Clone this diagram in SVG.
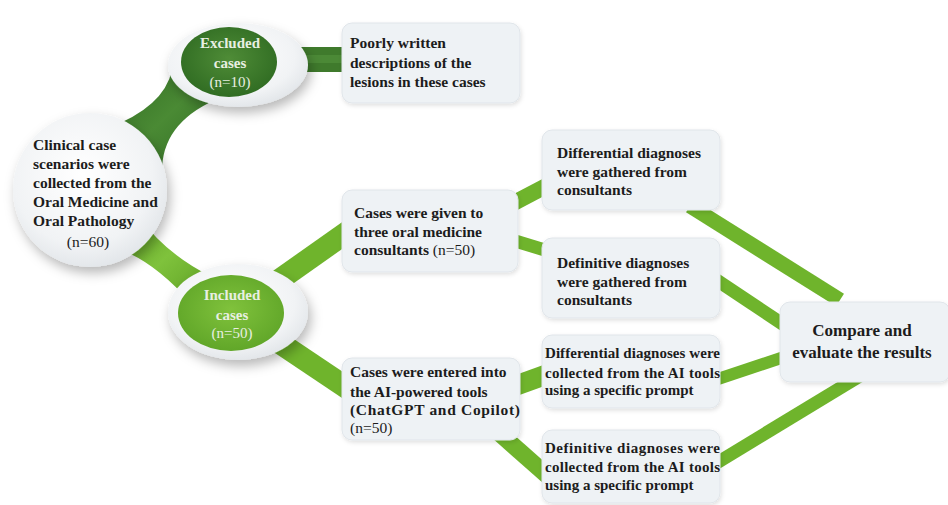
<svg xmlns="http://www.w3.org/2000/svg" width="948" height="505" viewBox="0 0 948 505">
<defs>
<filter id="sh" x="-30%" y="-30%" width="160%" height="170%">
<feDropShadow dx="3" dy="6" stdDeviation="6" flood-color="#000" flood-opacity="0.28"/>
</filter>
<filter id="bsh" x="-10%" y="-10%" width="120%" height="130%">
<feDropShadow dx="1" dy="2" stdDeviation="2" flood-color="#000" flood-opacity="0.12"/>
</filter>
<radialGradient id="ring" cx="45%" cy="40%" r="65%">
<stop offset="0" stop-color="#ffffff"/>
<stop offset="0.7" stop-color="#f1f3f5"/>
<stop offset="1" stop-color="#dfe3e7"/>
</radialGradient>
<radialGradient id="dark" cx="50%" cy="45%" r="60%">
<stop offset="0" stop-color="#4f8c37"/>
<stop offset="1" stop-color="#2e6a21"/>
</radialGradient>
<radialGradient id="light" cx="50%" cy="45%" r="60%">
<stop offset="0" stop-color="#80c23c"/>
<stop offset="1" stop-color="#5ea427"/>
</radialGradient>
<linearGradient id="darkBand" x1="0" y1="0" x2="1" y2="1">
<stop offset="0" stop-color="#2f6b22"/>
<stop offset="0.5" stop-color="#4a8a34"/>
<stop offset="1" stop-color="#2f6b22"/>
</linearGradient>
<linearGradient id="lightBand" x1="0" y1="0" x2="1" y2="1">
<stop offset="0" stop-color="#5c9f22"/>
<stop offset="0.5" stop-color="#7fc23c"/>
<stop offset="1" stop-color="#5c9f22"/>
</linearGradient>
</defs>
<style>
.band{stroke:#6fb42c;stroke-linecap:butt;fill:none}
.box{fill:#eef2f5;stroke:#e0e5ea;stroke-width:1;filter:url(#bsh)}
.ring{fill:url(#ring);filter:url(#sh)}
.t{font-family:"Liberation Serif","Times New Roman",serif;font-weight:bold;font-size:15.5px;fill:#1c1c1c}
.ts{font-size:15px}
.n{font-weight:normal}
.w{fill:#e8efe2;text-anchor:middle;font-size:15px}
.c{text-anchor:middle;font-size:17px}
</style>
<rect width="948" height="505" fill="#ffffff"/>

<g id="connectors">
<path d="M108,128 Q164,107 172,70 L215,100 Q161.5,124 162,172 Z" fill="url(#darkBand)"/>
<path d="M140,218 Q165,253 210,276 L192,304 Q150,257 114,248 Z" fill="url(#lightBand)"/>
<rect x="290" y="47" width="58" height="25" fill="#3f7a2c"/>
<rect x="290" y="55" width="58" height="8" fill="#4b8936"/>
<line class="band" x1="265" y1="290" x2="350" y2="230" stroke-width="22"/>
<line class="band" x1="265" y1="333" x2="350" y2="390" stroke-width="22"/>
<line class="band" x1="510" y1="205" x2="548" y2="185" stroke-width="16"/>
<line class="band" x1="512" y1="240" x2="548" y2="251" stroke-width="13"/>
<line class="band" x1="690" y1="206" x2="840" y2="300" stroke-width="15"/>
<line class="band" x1="715" y1="279" x2="790" y2="329" stroke-width="13"/>
<line class="band" x1="715" y1="380" x2="790" y2="355" stroke-width="12"/>
<line class="band" x1="715" y1="464" x2="860" y2="376" stroke-width="13"/>
<line class="band" x1="512" y1="387" x2="548" y2="374" stroke-width="20"/>
<line class="band" x1="498" y1="432" x2="550" y2="478" stroke-width="17"/>
</g>

<g id="clinical">
<circle class="ring" cx="90" cy="190" r="77"/>
<text class="t" x="33" y="150">Clinical case</text>
<text class="t" x="33" y="169">scenarios were</text>
<text class="t" x="33" y="188">collected from the</text>
<text class="t" x="33" y="207">Oral Medicine and</text>
<text class="t" x="33" y="226">Oral Pathology</text>
<text class="t n" x="88" y="247" text-anchor="middle">(n=60)</text>
</g>

<g id="excluded">
<ellipse class="ring" cx="238" cy="65" rx="70" ry="42"/>
<ellipse cx="229" cy="62" rx="48" ry="35" fill="url(#dark)"/>
<text class="t w" x="230" y="48">Excluded</text>
<text class="t w" x="230" y="68">cases</text>
<text class="t w n" x="230" y="87">(n=10)</text>
</g>

<g id="included">
<ellipse class="ring" cx="238" cy="312" rx="70" ry="48"/>
<ellipse cx="231" cy="313" rx="53" ry="38" fill="url(#light)"/>
<text class="t w" x="232" y="300">Included</text>
<text class="t w" x="232" y="320">cases</text>
<text class="t w n" x="232" y="338">(n=50)</text>
</g>

<g id="poorly">
<rect class="box" x="342" y="23" width="178" height="80" rx="10"/>
<text class="t" x="350" y="48">Poorly written</text>
<text class="t" x="350" y="68">descriptions of the</text>
<text class="t" x="350" y="87">lesions in these cases</text>
</g>

<g id="given">
<rect class="box" x="342" y="190" width="176" height="82" rx="10"/>
<text class="t" x="354" y="218">Cases were given to</text>
<text class="t" x="354" y="237">three oral medicine</text>
<text class="t" x="354" y="255">consultants <tspan class="n">(n=50)</tspan></text>
</g>

<g id="diffcons">
<rect class="box" x="542" y="130" width="178" height="80" rx="10"/>
<text class="t" x="557" y="158">Differential diagnoses</text>
<text class="t" x="557" y="177">were gathered from</text>
<text class="t" x="557" y="195">consultants</text>
</g>

<g id="defcons">
<rect class="box" x="542" y="238" width="178" height="80" rx="10"/>
<text class="t" x="557" y="268">Definitive diagnoses</text>
<text class="t" x="557" y="287">were gathered from</text>
<text class="t" x="557" y="305">consultants</text>
</g>

<g id="entered">
<rect class="box" x="342" y="358" width="178" height="82" rx="10"/>
<text class="t" x="350" y="377">Cases were entered into</text>
<text class="t" x="350" y="397">the AI-powered tools</text>
<text class="t" x="350" y="415" textLength="170" lengthAdjust="spacing">(ChatGPT and Copilot)</text>
<text class="t n" x="350" y="433">(n=50)</text>
</g>

<g id="diffai">
<rect class="box" x="542" y="335" width="178" height="73" rx="10"/>
<text class="t ts" x="545" y="358" textLength="175" lengthAdjust="spacing">Differential diagnoses were</text>
<text class="t ts" x="545" y="378" textLength="175" lengthAdjust="spacing">collected from the AI tools</text>
<text class="t ts" x="545" y="395">using a specific prompt</text>
</g>

<g id="defai">
<rect class="box" x="542" y="430" width="178" height="73" rx="10"/>
<text class="t ts" x="545" y="453" textLength="175" lengthAdjust="spacing">Definitive diagnoses were</text>
<text class="t ts" x="545" y="472" textLength="175" lengthAdjust="spacing">collected from the AI tools</text>
<text class="t ts" x="545" y="490">using a specific prompt</text>
</g>

<g id="compare">
<rect class="box" x="780" y="302" width="170" height="80" rx="10"/>
<text class="t c" x="862" y="336">Compare and</text>
<text class="t c" x="862" y="358">evaluate the results</text>
</g>
</svg>
